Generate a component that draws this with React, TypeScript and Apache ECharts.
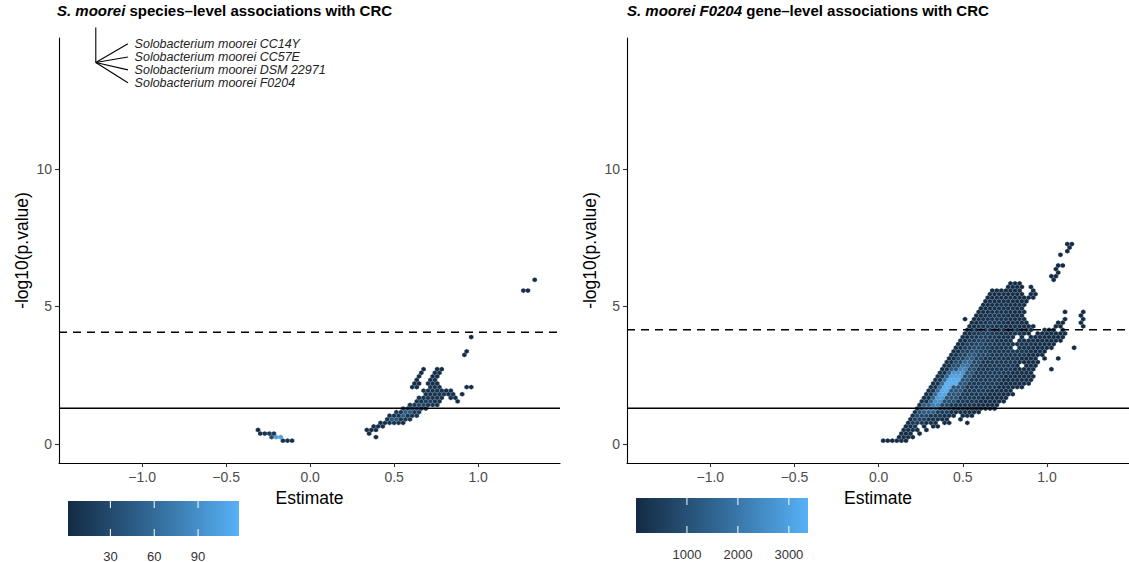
import React, { useEffect, useRef } from "react";
import * as echarts from "echarts";

const FONT = "'Liberation Sans', Arial, Helvetica, sans-serif";

// ---- axes / scales ----
const xRange = [-1.495, 1.487];
const yRange = [-0.69, 14.76];
const xTickValues = [-1, -0.5, 0, 0.5, 1];
const yTickValues = [0, 5, 10];

// hexagon bin grid (data units)
const hexGrid = { dx: 0.027, dy: 0.13, y0: 0.12 };

// reference lines
const nominalThreshold = 1.3;
const leftBonferroni = 4.06;
const rightBonferroni = 4.15;

// fill scales
const leftCountRange = [1, 118];
const rightCountRange = [1, 3375];
const leftLegendBreaks = [30, 60, 90];
const rightLegendBreaks = [1000, 2000, 3000];
const gradientColors = ["#132B43", "#336A98", "#56B1F7"];

// strain labels shown in left panel
const strainNames = [
  "Solobacterium moorei CC14Y",
  "Solobacterium moorei CC57E",
  "Solobacterium moorei DSM 22971",
  "Solobacterium moorei F0204",
];
const annotationAnchor = [-1.276, 13.87];
const annotationStemTop = 15.14;
const annotationLineEndX = -1.085;
const annotationLabelX = -1.045;
const annotationLabelY = [14.55, 14.07, 13.6, 13.13];

// hexbin rows: [y, x0, count, x1, count, x2, ...]  (count 0 = empty)
const leftRows = [
  [0.12, -0.175, 5, -0.095],
  [0.25, -0.245, 30, -0.21, 105, -0.15, 0, 0.365, 2, 0.395],
  [0.38, -0.31, 8, -0.255, 15, -0.2, 0, 0.345, 3, 0.375],
  [0.51, -0.335, 3, -0.305, 0, 0.335, 4, 0.395],
  [0.64, 0.365, 5, 0.44],
  [0.77, 0.41, 6, 0.56],
  [0.9, 0.435, 8, 0.46, 40, 0.52, 10, 0.6],
  [1.03, 0.47, 10, 0.53, 50, 0.58, 10, 0.64],
  [1.16, 0.51, 12, 0.55, 45, 0.6, 15, 0.67],
  [1.29, 0.545, 20, 0.6, 30, 0.65, 12, 0.71],
  [1.42, 0.575, 12, 0.64, 25, 0.68, 8, 0.76],
  [1.55, 0.615, 10, 0.68, 20, 0.72, 6, 0.79, 0, 0.86, 3, 0.89],
  [1.68, 0.645, 8, 0.81, 0, 0.825, 4, 0.87],
  [1.81, 0.665, 8, 0.8, 0, 0.81, 5, 0.865, 0, 0.885, 3, 0.915],
  [1.94, 0.675, 8, 0.79, 0, 0.8, 4, 0.86],
  [2.07, 0.6, 5, 0.65, 0, 0.69, 8, 0.78, 0, 0.93, 2, 0.96],
  [2.2, 0.605, 4, 0.65, 0, 0.7, 5, 0.775],
  [2.33, 0.615, 3, 0.655, 0, 0.715, 4, 0.765],
  [2.46, 0.63, 3, 0.66, 0, 0.725, 3, 0.765],
  [2.59, 0.64, 3, 0.67, 0, 0.74, 3, 0.775],
  [2.72, 0.65, 2, 0.68, 0, 0.755, 2, 0.785],
  [3.24, 0.905, 2, 0.935],
  [3.37, 0.915, 2, 0.945],
  [3.89, 0.95, 2, 0.98],
  [5.58, 1.245, 2, 1.3],
  [5.97, 1.315, 2, 1.345],
];

const rightRows = [
  [0.12, 0.02, 4, 0.17],
  [0.25, 0.11, 8, 0.16, 20, 0.22],
  [0.38, 0.12, 15, 0.19, 40, 0.21, 0, 0.24, 10, 0.26],
  [0.51, 0.13, 30, 0.18, 120, 0.23, 0, 0.26, 25, 0.31],
  [0.64, 0.14, 40, 0.19, 250, 0.24, 0, 0.265, 60, 0.29, 0, 0.315, 20, 0.37],
  [0.77, 0.16, 80, 0.2, 400, 0.27, 120, 0.34, 0, 0.365, 30, 0.42, 0, 0.5, 5, 0.545],
  [0.9, 0.17, 100, 0.21, 600, 0.29, 200, 0.36, 60, 0.43, 0, 0.46, 15, 0.51],
  [1.03, 0.18, 120, 0.22, 800, 0.31, 300, 0.38, 80, 0.46, 0, 0.49, 20, 0.56],
  [1.16, 0.19, 150, 0.23, 900, 0.27, 1300, 0.33, 450, 0.42, 80, 0.52, 15, 0.61],
  [1.29, 0.21, 150, 0.25, 1200, 0.28, 1800, 0.35, 650, 0.42, 150, 0.55, 30, 0.69],
  [1.42, 0.23, 150, 0.27, 1300, 0.3, 2200, 0.36, 800, 0.43, 250, 0.58, 30, 0.72],
  [1.55, 0.245, 150, 0.285, 1400, 0.32, 2600, 0.38, 900, 0.45, 300, 0.6, 40, 0.75],
  [1.68, 0.26, 150, 0.3, 1500, 0.34, 2900, 0.4, 1000, 0.47, 330, 0.62, 40, 0.78],
  [1.81, 0.27, 150, 0.315, 1600, 0.355, 3100, 0.415, 1100, 0.48, 350, 0.65, 40, 0.8],
  [1.94, 0.285, 150, 0.33, 1700, 0.37, 3300, 0.43, 1100, 0.5, 350, 0.67, 40, 0.81],
  [2.07, 0.3, 150, 0.345, 1700, 0.385, 3350, 0.445, 1100, 0.51, 350, 0.69, 40, 0.86],
  [2.2, 0.31, 150, 0.36, 1700, 0.4, 3375, 0.46, 1100, 0.53, 350, 0.71, 40, 0.9],
  [2.33, 0.325, 150, 0.375, 1600, 0.415, 3300, 0.475, 1100, 0.54, 350, 0.73, 40, 0.91],
  [2.46, 0.34, 150, 0.39, 1500, 0.43, 3000, 0.49, 1000, 0.56, 350, 0.75, 40, 0.92],
  [2.59, 0.35, 140, 0.4, 1300, 0.445, 2700, 0.505, 1000, 0.57, 350, 0.77, 40, 0.92],
  [2.72, 0.365, 120, 0.415, 1100, 0.46, 2300, 0.52, 900, 0.59, 330, 0.8, 30, 0.92, 0, 1.0, 4, 1.04],
  [2.85, 0.38, 100, 0.43, 900, 0.475, 1900, 0.535, 800, 0.6, 300, 0.8, 30, 0.83, 0, 0.855, 25, 0.94],
  [2.98, 0.39, 100, 0.445, 800, 0.49, 1600, 0.55, 750, 0.62, 300, 0.82, 30, 0.95],
  [3.11, 0.405, 90, 0.46, 700, 0.505, 1300, 0.565, 700, 0.63, 280, 0.85, 30, 0.95, 0, 0.98, 10, 1.0, 0, 1.045, 3, 1.075],
  [3.24, 0.42, 80, 0.47, 600, 0.52, 1100, 0.58, 650, 0.65, 270, 0.88, 25, 0.99],
  [3.37, 0.43, 80, 0.485, 550, 0.535, 900, 0.595, 600, 0.66, 260, 0.9, 25, 1.0],
  [3.5, 0.445, 70, 0.5, 500, 0.55, 800, 0.61, 500, 0.67, 220, 0.795, 0, 0.825, 100, 0.92, 20, 1.03, 0, 1.155, 3, 1.185],
  [3.63, 0.46, 60, 0.51, 450, 0.565, 700, 0.625, 400, 0.68, 200, 0.93, 20, 1.06],
  [3.76, 0.47, 60, 0.525, 400, 0.58, 600, 0.64, 380, 0.7, 180, 0.79, 0, 0.83, 100, 0.93, 15, 1.09],
  [3.89, 0.485, 50, 0.54, 350, 0.59, 500, 0.65, 330, 0.71, 160, 0.82, 0, 0.85, 60, 0.87, 0, 0.9, 60, 0.96, 15, 1.11],
  [4.02, 0.5, 50, 0.55, 300, 0.605, 450, 0.665, 300, 0.72, 150, 0.85, 30, 0.9, 0, 0.93, 20, 1.11],
  [4.15, 0.51, 40, 0.565, 260, 0.62, 380, 0.68, 260, 0.74, 130, 0.86, 20, 0.93, 0, 0.96, 10, 1.05, 0, 1.08, 3, 1.11],
  [4.28, 0.525, 40, 0.58, 230, 0.63, 330, 0.69, 230, 0.75, 110, 0.86, 15, 0.94, 0, 1.04, 4, 1.1, 0, 1.19, 3, 1.22],
  [4.41, 0.535, 35, 0.59, 200, 0.64, 280, 0.7, 200, 0.76, 90, 0.86, 10, 0.89, 0, 1.05, 4, 1.1, 0, 1.19, 3, 1.22],
  [4.54, 0.51, 5, 0.535, 0, 0.555, 35, 0.6, 180, 0.65, 250, 0.71, 180, 0.77, 80, 0.85, 10, 0.88, 0, 1.1, 3, 1.13, 0, 1.19, 3, 1.22],
  [4.67, 0.56, 30, 0.61, 160, 0.66, 220, 0.72, 160, 0.78, 60, 0.87, 0, 1.19, 3, 1.22],
  [4.8, 0.575, 30, 0.62, 140, 0.67, 200, 0.73, 140, 0.79, 50, 0.87, 0, 1.1, 3, 1.13, 0, 1.19, 3, 1.22],
  [4.93, 0.59, 25, 0.635, 120, 0.69, 170, 0.75, 120, 0.8, 40, 0.87],
  [5.06, 0.6, 25, 0.65, 100, 0.7, 150, 0.76, 100, 0.81, 35, 0.88],
  [5.19, 0.615, 20, 0.66, 90, 0.72, 120, 0.78, 80, 0.83, 25, 0.89],
  [5.32, 0.63, 15, 0.675, 70, 0.74, 90, 0.8, 50, 0.85, 15, 0.94],
  [5.45, 0.645, 10, 0.69, 50, 0.76, 60, 0.81, 20, 0.86, 0, 0.885, 8, 0.935],
  [5.58, 0.67, 8, 0.72, 30, 0.8, 10, 0.86, 0, 0.895, 5, 0.935],
  [5.71, 0.76, 5, 0.86, 0, 0.9, 3, 0.93],
  [5.84, 0.78, 3, 0.845],
  [5.97, 1.015, 3, 1.045],
  [6.1, 1.025, 4, 1.055],
  [6.23, 1.04, 4, 1.07],
  [6.36, 1.05, 3, 1.08],
  [6.49, 1.065, 3, 1.095],
  [6.88, 1.06, 3, 1.1],
  [7.01, 1.105, 2, 1.135],
  [7.14, 1.13, 2, 1.16],
  [7.27, 1.12, 2, 1.15],
];

function rowsToCells(rows: number[][]) {
  const cells: number[][] = [];
  for (const row of rows) {
    const y = row[0];
    const r = Math.round((y - hexGrid.y0) / hexGrid.dy);
    const off = Math.abs(r) % 2 === 1 ? hexGrid.dx / 2 : 0;
    for (let i = 1; i + 2 < row.length; i += 2) {
      const x0 = row[i];
      const c = row[i + 1];
      const x1 = row[i + 2];
      if (!c) continue;
      const kStart = Math.ceil((x0 - off) / hexGrid.dx - 1e-9);
      for (let k = kStart; ; k++) {
        const cx = off + k * hexGrid.dx;
        if (cx >= x1 - 1e-9) break;
        cells.push([cx, y, c]);
      }
    }
  }
  return cells;
}

const fmtX = (v: number) => (v < 0 ? "\u2212" : "") + Math.abs(v).toFixed(1);

function hexRender(params: any, api: any) {
  const c = api.coord([api.value(0), api.value(1)]);
  const s = api.size([hexGrid.dx, hexGrid.dy]);
  const w = s[0] / 2;
  const R = s[1] / 1.5;
  const pts = [
    [c[0], c[1] - R],
    [c[0] + w, c[1] - R / 2],
    [c[0] + w, c[1] + R / 2],
    [c[0], c[1] + R],
    [c[0] - w, c[1] + R / 2],
    [c[0] - w, c[1] - R / 2],
  ];
  return {
    type: "polygon",
    shape: { points: pts },
    style: { fill: api.visual("color"), stroke: "rgba(150,165,180,0.55)", lineWidth: 0.45 },
  };
}

function makeX(gi: number) {
  return {
    type: "value",
    gridIndex: gi,
    min: xRange[0],
    max: xRange[1],
    splitLine: { show: false },
    axisLine: { show: true, onZero: false, lineStyle: { color: "#000", width: 1.1 } },
    axisTick: { show: true, length: 4, inside: false, customValues: xTickValues, lineStyle: { color: "#333", width: 1.1 } },
    axisLabel: { show: true, customValues: xTickValues, formatter: fmtX, color: "#4d4d4d", fontSize: 14, fontFamily: FONT, margin: 7 },
    name: "Estimate",
    nameLocation: "middle",
    nameGap: 24,
    nameTextStyle: { fontSize: 17.5, color: "#000", fontFamily: FONT },
  };
}

function makeY(gi: number) {
  return {
    type: "value",
    gridIndex: gi,
    min: yRange[0],
    max: yRange[1],
    splitLine: { show: false },
    axisLine: { show: true, onZero: false, lineStyle: { color: "#000", width: 1.1 } },
    axisTick: { show: true, length: 4, inside: false, customValues: yTickValues, lineStyle: { color: "#333", width: 1.1 } },
    axisLabel: { show: true, customValues: yTickValues, formatter: (v: number) => String(v), color: "#4d4d4d", fontSize: 14, fontFamily: FONT, margin: 7 },
    name: "-log10(p.value)",
    nameLocation: "middle",
    nameGap: 28,
    nameTextStyle: { fontSize: 17.5, color: "#000", fontFamily: FONT },
  };
}

function hLine(gi: number, y: number, dashed: boolean) {
  return {
    type: "line",
    xAxisIndex: gi,
    yAxisIndex: gi,
    data: [
      [xRange[0], y],
      [xRange[1], y],
    ],
    symbol: "none",
    silent: true,
    z: 5,
    lineStyle: { color: "#000", width: dashed ? 1.5 : 1.4, type: dashed ? [8, 6] : "solid" },
  };
}

function colorbar(bar: { x: number; y: number; w: number; h: number; labelY: number }, range: number[], breaks: number[]) {
  const els: any[] = [];
  els.push({
    type: "rect",
    shape: { x: bar.x, y: bar.y, width: bar.w, height: bar.h },
    style: {
      fill: new echarts.graphic.LinearGradient(0, 0, 1, 0, [
        { offset: 0, color: gradientColors[0] },
        { offset: 0.5, color: gradientColors[1] },
        { offset: 1, color: gradientColors[2] },
      ]),
    },
  });
  const tl = bar.h / 5;
  for (const b of breaks) {
    const x = bar.x + ((b - range[0]) / (range[1] - range[0])) * bar.w;
    els.push({ type: "line", shape: { x1: x, y1: bar.y, x2: x, y2: bar.y + tl }, style: { stroke: "#fff", lineWidth: 1 } });
    els.push({ type: "line", shape: { x1: x, y1: bar.y + bar.h - tl, x2: x, y2: bar.y + bar.h }, style: { stroke: "#fff", lineWidth: 1 } });
    els.push({
      type: "text",
      x,
      y: bar.labelY,
      style: { text: String(b), align: "center", verticalAlign: "middle", fontSize: 13, fontFamily: FONT, fill: "#333" },
    });
  }
  return els;
}

export default function App() {
  const ref = useRef<HTMLDivElement>(null);
  useEffect(() => {
    const chart = echarts.init(ref.current!, null, { renderer: "svg" });
    const titleStyle = {
      fontSize: 15,
      fontWeight: "bold",
      color: "#000",
      fontFamily: FONT,
      rich: { i: { fontSize: 15, fontWeight: "bold", fontStyle: "italic", color: "#000", fontFamily: FONT } },
    };
    const option: any = {
      animation: false,
      backgroundColor: "#fff",
      textStyle: { fontFamily: FONT },
      title: [
        { text: "{i|S. moorei} species\u2013level associations with CRC", left: 57, top: 3, padding: 0, textStyle: titleStyle },
        { text: "{i|S. moorei F0204} gene\u2013level associations with CRC", left: 627, top: 3, padding: 0, textStyle: titleStyle },
      ],
      grid: [
        { left: 59, top: 38, width: 501, height: 425 },
        { left: 627, top: 38, width: 502, height: 425 },
      ],
      xAxis: [makeX(0), makeX(1)],
      yAxis: [makeY(0), makeY(1)],
      visualMap: [
        { show: false, type: "continuous", seriesIndex: 0, dimension: 2, min: leftCountRange[0], max: leftCountRange[1], inRange: { color: gradientColors } },
        { show: false, type: "continuous", seriesIndex: 1, dimension: 2, min: rightCountRange[0], max: rightCountRange[1], inRange: { color: gradientColors } },
      ],
      series: [
        { type: "custom", xAxisIndex: 0, yAxisIndex: 0, renderItem: hexRender, data: rowsToCells(leftRows), encode: { x: 0, y: 1 }, z: 2 },
        { type: "custom", xAxisIndex: 1, yAxisIndex: 1, renderItem: hexRender, data: rowsToCells(rightRows), encode: { x: 0, y: 1 }, z: 2 },
        hLine(0, nominalThreshold, false),
        hLine(0, leftBonferroni, true),
        hLine(1, nominalThreshold, false),
        hLine(1, rightBonferroni, true),
      ],
    };
    chart.setOption(option);

    const toPx = (p: number[]) => chart.convertToPixel({ gridIndex: 0 }, p) as number[];
    const anchor = toPx(annotationAnchor);
    const stemTop = toPx([annotationAnchor[0], annotationStemTop]);
    const g: any[] = [];
    g.push({ type: "line", shape: { x1: anchor[0], y1: stemTop[1], x2: anchor[0], y2: anchor[1] }, style: { stroke: "#000", lineWidth: 1.1 } });
    strainNames.forEach((name, i) => {
      const end = toPx([annotationLineEndX, annotationLabelY[i]]);
      const lab = toPx([annotationLabelX, annotationLabelY[i]]);
      g.push({ type: "line", shape: { x1: anchor[0], y1: anchor[1], x2: end[0], y2: end[1] }, style: { stroke: "#000", lineWidth: 1.1 } });
      g.push({
        type: "text",
        x: lab[0],
        y: lab[1],
        style: { text: name, align: "left", verticalAlign: "middle", fontSize: 12.5, fontStyle: "italic", fontFamily: FONT, fill: "#222" },
      });
    });
    g.push(...colorbar({ x: 68, y: 501, w: 171, h: 35, labelY: 556 }, leftCountRange, leftLegendBreaks));
    g.push(...colorbar({ x: 636, y: 498, w: 172, h: 35, labelY: 554 }, rightCountRange, rightLegendBreaks));
    chart.setOption({ graphic: g });

    return () => chart.dispose();
  }, []);
  return <div ref={ref} style={{ position: "fixed", left: 0, top: 0, width: 1129, height: 562, background: "#fff" }} />;
}
